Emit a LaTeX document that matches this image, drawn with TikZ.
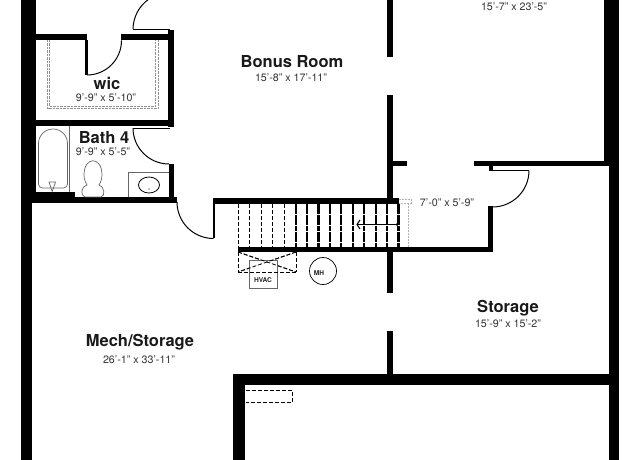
\documentclass[tikz,border=0pt]{standalone}
\usepackage{fontspec}
\setmainfont{TeX Gyre Heros}
\tikzset{
  wall/.style={fill=black, draw=none},
  thinwall/.style={draw=black, line width=1.1pt},
  door/.style={draw=black, line width=1pt},
  dash line/.style={draw=black, line width=1pt, dash pattern=on 4pt off 2pt},
  shelf/.style={draw=gray!85, line width=.7pt, dash pattern=on 2.5pt off 1pt},
  fixture/.style={draw=gray!80!black, line width=.7pt},
  roomname/.style={font=\fontsize{16.5}{18}\selectfont\bfseries, text=black!90, inner sep=0pt},
  roomsize/.style={font=\fontsize{10.7}{12}\selectfont, text=black!80, inner sep=0pt},
  tag/.style={font=\fontsize{6.6}{7}\selectfont\bfseries, text=black!85, inner sep=0pt},
}
\begin{document}
\begin{tikzpicture}[x=1pt,y=-1pt]
\useasboundingbox (0,0) rectangle (640,460);

% Outer walls
\fill[wall] (21,0) rectangle (36,200);
\fill[wall] (21,200) rectangle (32,460);
\fill[wall] (604,0) rectangle (619,165);
\fill[wall] (609,165) rectangle (619,460);

% wic
\fill[wall] (36,34) rectangle (87,40);
\fill[wall] (85,40) rectangle (88,75);
\fill[wall] (121,34) rectangle (174,40);
\fill[wall] (168,30) rectangle (174,127);
\fill[wall] (36,120) rectangle (174,126);
\draw[door] (87,75) arc[start angle=90, end angle=0, radius=34.5];
\draw[door] (133,29.5) -- (170,29.5);
\draw[door] (133,29.5) arc[start angle=180, end angle=235, radius=37];
\draw[shelf] (47.5,40) -- (47.5,108.5) -- (158,108.5) -- (158,40);
\draw[shelf] (49.5,40) -- (49.5,106.5) -- (155.5,106.5) -- (155.5,40);

% Bath 4
\fill[wall] (32,192) rectangle (75,203);
\fill[wall] (75,197) rectangle (177,203);
\fill[wall] (169,164) rectangle (174,200);
\draw[door] (133,128) -- (170,128);
\draw[door] (133,128) arc[start angle=180, end angle=90, radius=36];
% Banera
\draw[fixture] (69,126) -- (69,192);
\draw[fixture] (38.5,143.5) arc[start angle=180, end angle=360, radius=14.5] -- (67.5,184) arc[start angle=0, end angle=90, radius=4] -- (42.5,188) arc[start angle=90, end angle=180, radius=4] -- cycle;
\draw[fixture] (49,182) -- (55.5,182) -- (52.2,191.5) -- cycle;
% Inodoro
\draw[fixture] (84,175) .. controls (84,156) and (102,156) .. (102,175) .. controls (102,180) and (100,183) .. (99,185) .. controls (104,186) and (106,196) .. (101,197) -- (85,197) .. controls (80,196) and (81,186) .. (87,185) .. controls (86,183) and (84,180) .. (84,175) -- cycle;
% Lavabo
\draw[fixture] (169,172.5) -- (128.5,172.5) -- (128.5,197);
\draw[draw=black, line width=.8pt] (149,185) ellipse[x radius=10.5, y radius=8];
\fill[gray] (149,189) circle[radius=.8];

% Stairs and door to Mech/Storage
\fill[wall] (213,198) rectangle (399,203.5);
\fill[wall] (212.5,198) rectangle (215,238);
\draw[door] (177,202) arc[start angle=180, end angle=90, radius=36.5];
\fill[wall] (238,246.5) rectangle (493,252);
\foreach \x in {238.3,249.8,261.2,272.7,284.1}
  \draw[dash line] (\x,203.5) -- (\x,246.5);
\foreach \x in {295.6,307,318.4,329.9,341.3,352.8,364.2,375.7,387.1,398.5}
  \draw[dash line, line width=2.2pt, dash pattern=on 5pt off .6pt] (\x,203.5) -- (\x,246.5);
\draw[thinwall] (398,224.5) -- (358,224.5);
\fill (397,224.5) circle[radius=1.5];
\draw[thinwall] (360,220) -- (357,224.5) -- (360,229);
\draw[draw=gray!60, line width=.7pt, dash pattern=on 2pt off 1pt] (399,199) -- (411,199) -- (411,203) -- (399,203);
\draw[draw=gray!60, line width=1.6pt, dash pattern=on 2pt off 1pt] (408.5,203) -- (408.5,247);

% HVAC
\draw[dash line] (238,252) -- (238,272);
\draw[dash line] (296,252) -- (296,272);
\draw[dash line, line width=.8pt] (238,252) -- (296,272);
\draw[dash line, line width=.8pt] (296,252) -- (238,272);
\node[fixture, fill=white, minimum width=28pt, minimum height=28pt, inner sep=0pt, anchor=north west] (Hvac) at (249,260) {};
\draw[dash line, line width=.8pt] (238,252) -- (296,272);
\draw[dash line, line width=.8pt] (296,252) -- (238,272);
\draw[dash line] (238,272) -- (296,272);
\node[tag] (HvacText) at (263,280) {HVAC};

% Water heater
\node[circle, draw=black, line width=.7pt, minimum size=27pt, inner sep=0pt] (Heater) at (323,271) {};
\node[tag] (HeaterText) at (319,273) {MH};

% Central wall
\fill[wall] (387,0) rectangle (393,57);
\fill[wall] (387,95) rectangle (393,198);
\fill[wall] (387,252) rectangle (393,293);
\fill[wall] (387,331) rectangle (393,376);

% Closet next to the stairs
\fill[wall] (392,161) rectangle (407,166);
\fill[wall] (474,161) rectangle (612,166);
\fill[wall] (489,165) rectangle (493,171);
\fill[wall] (488,206) rectangle (493,252);
\draw[door] (492,170.5) -- (529,170.5);
\draw[door] (529,170.5) arc[start angle=0, end angle=90, radius=36.5];

% Lower room
\fill[wall] (233,374) rectangle (609,385);
\fill[wall] (233,374) rectangle (245,460);
\draw[dash line] (246,390) -- (292,390) -- (292,402.5) -- (246,402.5);

% Room labels
\node[roomsize] (BedSize) at (514,6.5) {15'-7" x 23'-5"};
\node[roomname] (Bonus) at (292,61.5) {Bonus Room};
\node[roomsize] (BonusSize) at (291,78) {15'-8" x 17'-11"};
\node[roomname] (Wic) at (107,83.5) {wic};
\node[roomsize] (WicSize) at (106,98) {9'-9" x 5'-10"};
\node[roomname] (Bath) at (104,138) {Bath 4};
\node[roomsize] (BathSize) at (103,151.5) {9'-9" x 5'-5"};
\node[roomsize] (ClosetSize) at (447,203) {7'-0" x 5'-9"};
\node[roomname] (Storage) at (508,308) {Storage};
\node[roomsize] (StorageSize) at (508,324) {15'-9" x 15'-2"};
\node[roomname] (Mech) at (140,342) {Mech/Storage};
\node[roomsize] (MechSize) at (139,360) {26'-1" x 33'-11"};

\end{tikzpicture}
\end{document}
